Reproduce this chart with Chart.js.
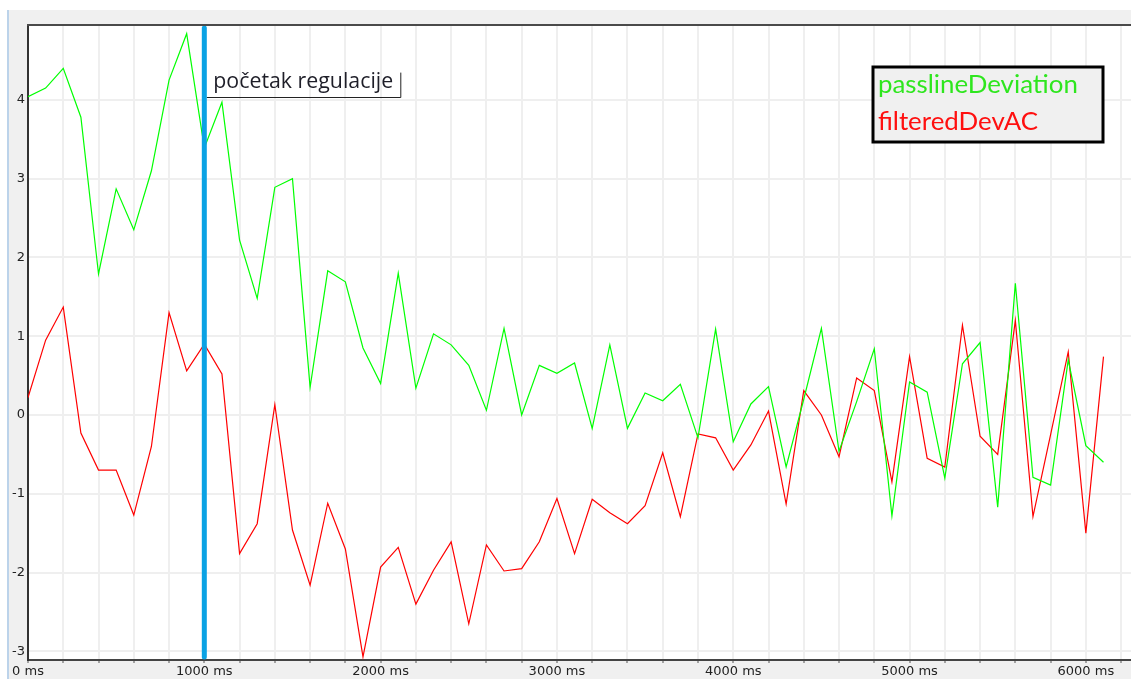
<!DOCTYPE html>
<html>
<head>
<meta charset="utf-8">
<title>passlineDeviation / filteredDevAC</title>
<script src="https://cdn.jsdelivr.net/npm/chart.js@4"></script>
<style>
  html, body { margin: 0; padding: 0; background: #ffffff; }
  canvas { display: block; }
</style>
</head>
<body>
<canvas id="grafico" width="1131" height="679"></canvas>
<script>
// Time of each sample (ms)
const vremena = [
  0, 100, 200, 300, 400, 500, 600, 700, 800, 900,
  1000, 1100, 1200, 1300, 1400, 1500, 1600, 1700, 1800, 1900,
  2000, 2100, 2200, 2300, 2400, 2500, 2600, 2700, 2800, 2900,
  3000, 3100, 3200, 3300, 3400, 3500, 3600, 3700, 3800, 3900,
  4000, 4100, 4200, 4300, 4400, 4500, 4600, 4700, 4800, 4900,
  5000, 5100, 5200, 5300, 5400, 5500, 5600, 5700, 5800, 5900,
  6000, 6100
];

// Series values
const passlineDeviation = [
  4.04, 4.15, 4.40, 3.78, 1.79, 2.87, 2.35, 3.10, 4.25, 4.84,
  3.39, 3.97, 2.22, 1.48, 2.89, 3.00, 0.35, 1.83, 1.69, 0.85,
  0.40, 1.80, 0.34, 1.03, 0.89, 0.63, 0.06, 1.10, 0.00, 0.63,
  0.53, 0.66, -0.17, 0.89, -0.17, 0.28, 0.18, 0.39, -0.29, 1.09,
  -0.34, 0.14, 0.36, -0.66, 0.20, 1.10, -0.46, 0.17, 0.84, -1.28,
  0.42, 0.29, -0.80, 0.65, 0.92, -1.17, 1.67, -0.79, -0.89, 0.70,
  -0.39, -0.60
];

const filteredDevAC = [
  0.22, 0.95, 1.37, -0.23, -0.70, -0.70, -1.27, -0.40, 1.30, 0.56,
  0.90, 0.52, -1.76, -1.38, 0.13, -1.46, -2.16, -1.12, -1.70, -3.07,
  -1.93, -1.68, -2.40, -1.97, -1.61, -2.65, -1.65, -1.98, -1.95, -1.61,
  -1.06, -1.76, -1.07, -1.24, -1.38, -1.15, -0.48, -1.29, -0.24, -0.29,
  -0.70, -0.38, 0.05, -1.13, 0.31, 0.00, -0.53, 0.47, 0.31, -0.85,
  0.74, -0.55, -0.66, 1.14, -0.27, -0.50, 1.20, -1.29, -0.25, 0.80,
  -1.50, 0.74
];

// Axis ranges and ticks
const xMin = 0;
const xMax = 6256;
const xKorak = 200;       // grid every 200 ms
const xOznakaKorak = 1000; // label every 1000 ms
const yMin = -3.11;
const yMax = 4.95;
const yKorak = 1;

// Vertical marker
const pocetakRegulacije = 1000;
const pocetakTekst = 'početak regulacije';

function toPoints(vals) {
  return vals.map((v, i) => ({ x: vremena[i], y: v }));
}

// Fit a font size so the text reaches a given width
function fitFont(ctx, text, family, weight, targetWidth) {
  ctx.font = `${weight} 100px ${family}`;
  const w = ctx.measureText(text).width;
  return 100 * targetWidth / w;
}

// Window frame and white plot area
const pozadinaPlugin = {
  id: 'pozadina',
  beforeDraw(chart) {
    const { ctx, chartArea: a, width, height } = chart;
    ctx.save();
    ctx.fillStyle = '#ffffff';
    ctx.fillRect(0, 0, width, height);
    ctx.fillStyle = '#f0f0f0';
    ctx.fillRect(9, 10, width - 9, height - 10);
    ctx.fillStyle = '#bcd3ea';
    ctx.fillRect(7, 10, 2, height - 10);
    ctx.fillStyle = '#ffffff';
    ctx.fillRect(a.left, a.top, a.right - a.left, a.bottom - a.top);
    ctx.restore();
  },
  afterDraw(chart) {
    const { ctx, chartArea: a } = chart;
    ctx.save();
    ctx.strokeStyle = '#4a4a4a';
    ctx.lineWidth = 2;
    ctx.beginPath();
    ctx.moveTo(a.left - 1, a.top);
    ctx.lineTo(a.right, a.top);
    ctx.stroke();
    ctx.restore();
  }
};

// Blue line at the start of regulation, with its label
const markerPlugin = {
  id: 'marker',
  afterDatasetsDraw(chart) {
    const { ctx, chartArea: a, scales } = chart;
    const x = scales.x.getPixelForValue(pocetakRegulacije);
    ctx.save();
    ctx.strokeStyle = '#0aa2e4';
    ctx.lineWidth = 5;
    ctx.lineCap = 'round';
    ctx.beginPath();
    ctx.moveTo(x, a.top + 3);
    ctx.lineTo(x, a.bottom - 3);
    ctx.stroke();

    // label with a bottom/right edge
    const size = fitFont(ctx, pocetakTekst, '"Open Sans"', 'normal', 180);
    ctx.font = `normal ${size}px "Open Sans"`;
    ctx.fillStyle = '#1e1e28';
    ctx.textBaseline = 'alphabetic';
    ctx.textAlign = 'left';
    ctx.fillText(pocetakTekst, x + 9, a.top + 63);

    ctx.strokeStyle = '#222222';
    ctx.lineWidth = 1;
    ctx.beginPath();
    ctx.moveTo(x + 3, a.top + 72.5);
    ctx.lineTo(x + 196.5, a.top + 72.5);
    ctx.lineTo(x + 196.5, a.top + 48);
    ctx.stroke();
    ctx.restore();
  }
};

// Legend box in the top right corner
const legendaPlugin = {
  id: 'legenda',
  afterDraw(chart) {
    const { ctx, chartArea: a } = chart;
    const right = a.right - 28;
    const left = right - 230;
    const top = a.top + 42;
    const bottom = top + 75;
    ctx.save();
    ctx.fillStyle = '#f0f0f0';
    ctx.fillRect(left, top, right - left, bottom - top);
    ctx.strokeStyle = '#000000';
    ctx.lineWidth = 3;
    ctx.strokeRect(left, top, right - left, bottom - top);

    const sets = chart.data.datasets;
    const size = fitFont(ctx, sets[0].label, 'Lato', 'normal', 200);
    ctx.font = `normal ${size}px Lato`;
    ctx.textAlign = 'left';
    ctx.textBaseline = 'alphabetic';
    sets.forEach((ds, i) => {
      ctx.fillStyle = ds.legendColor;
      ctx.fillText(ds.label, left + 5, top + 26 + i * 37);
    });
    ctx.restore();
  }
};

const ctx = document.getElementById('grafico').getContext('2d');

new Chart(ctx, {
  type: 'line',
  data: {
    datasets: [
      {
        label: 'passlineDeviation',
        data: toPoints(passlineDeviation),
        borderColor: '#00ff00',
        legendColor: '#2ee61e',
        borderWidth: 1.2,
        pointRadius: 0,
        tension: 0,
        fill: false
      },
      {
        label: 'filteredDevAC',
        data: toPoints(filteredDevAC),
        borderColor: '#ff0000',
        legendColor: '#ff0f0f',
        borderWidth: 1.2,
        pointRadius: 0,
        tension: 0,
        fill: false
      }
    ]
  },
  options: {
    responsive: false,
    animation: false,
    devicePixelRatio: 1,
    layout: { padding: { top: 25, left: 0, right: 0, bottom: 0 } },
    plugins: {
      legend: { display: false },
      tooltip: { enabled: false }
    },
    scales: {
      x: {
        type: 'linear',
        min: xMin,
        max: xMax,
        afterFit(scale) { scale.height = 19; },
        grid: {
          color: '#efefef',
          lineWidth: 2,
          tickLength: 3,
          tickColor: '#555555',
          tickWidth: 1
        },
        border: { color: '#444444', width: 2 },
        ticks: {
          stepSize: xKorak,
          includeBounds: false,
          autoSkip: false,
          maxRotation: 0,
          padding: 1,
          color: '#222222',
          font: { family: '"DejaVu Sans"', size: 13 },
          callback: v => (v % xOznakaKorak === 0 ? v + ' ms' : '')
        }
      },
      y: {
        min: yMin,
        max: yMax,
        afterFit(scale) { scale.width = 28; },
        grid: {
          color: '#efefef',
          lineWidth: 2,
          tickLength: 0
        },
        border: { color: '#333333', width: 2 },
        ticks: {
          stepSize: yKorak,
          includeBounds: false,
          padding: 3,
          color: '#222222',
          font: { family: '"DejaVu Sans"', size: 13 }
        }
      }
    }
  },
  plugins: [pozadinaPlugin, markerPlugin, legendaPlugin]
});
</script>
</body>
</html>
